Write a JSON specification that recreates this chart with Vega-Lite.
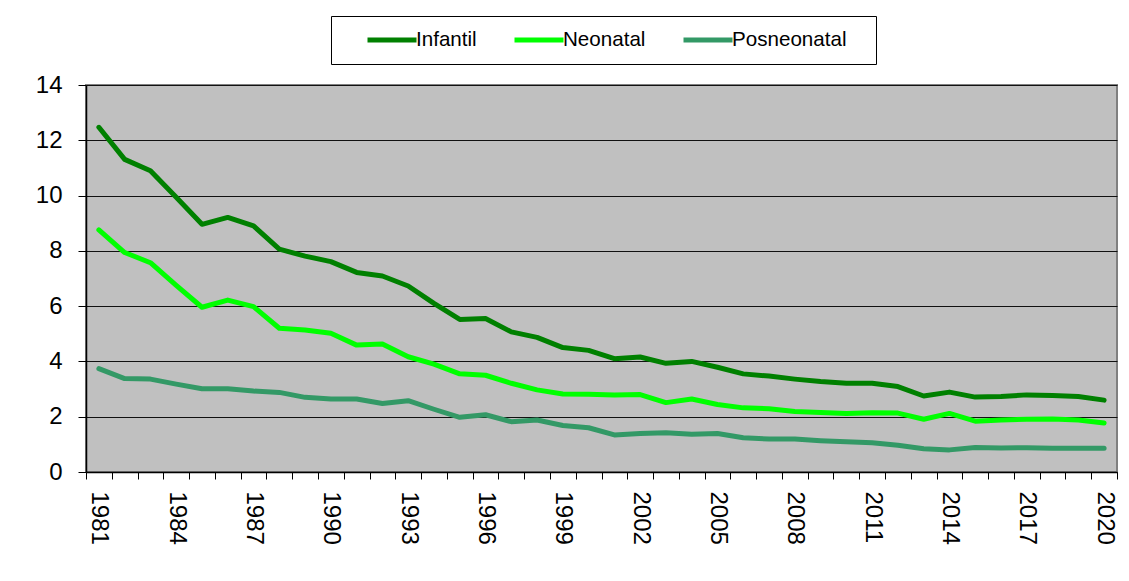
{
  "$schema": "https://vega.github.io/schema/vega-lite/v6.json",
  "width": 1031,
  "height": 387,
  "autosize": {"type": "none"},
  "padding": {"left": 86, "top": 85, "right": 12, "bottom": 109},
  "background": "white",
  "config": {
    "font": "Liberation Sans",
    "view": {"fill": "#C0C0C0", "stroke": "#808080", "strokeWidth": 2}
  },
  "data": {
    "values": [
      {"year": 1981, "serie": "Infantil", "valor": 12.47},
      {"year": 1982, "serie": "Infantil", "valor": 11.31},
      {"year": 1983, "serie": "Infantil", "valor": 10.9},
      {"year": 1984, "serie": "Infantil", "valor": 9.94},
      {"year": 1985, "serie": "Infantil", "valor": 8.96},
      {"year": 1986, "serie": "Infantil", "valor": 9.21},
      {"year": 1987, "serie": "Infantil", "valor": 8.9},
      {"year": 1988, "serie": "Infantil", "valor": 8.06},
      {"year": 1989, "serie": "Infantil", "valor": 7.81},
      {"year": 1990, "serie": "Infantil", "valor": 7.61},
      {"year": 1991, "serie": "Infantil", "valor": 7.22},
      {"year": 1992, "serie": "Infantil", "valor": 7.09},
      {"year": 1993, "serie": "Infantil", "valor": 6.73},
      {"year": 1994, "serie": "Infantil", "valor": 6.1},
      {"year": 1995, "serie": "Infantil", "valor": 5.52},
      {"year": 1996, "serie": "Infantil", "valor": 5.55},
      {"year": 1997, "serie": "Infantil", "valor": 5.07},
      {"year": 1998, "serie": "Infantil", "valor": 4.87},
      {"year": 1999, "serie": "Infantil", "valor": 4.5},
      {"year": 2000, "serie": "Infantil", "valor": 4.4},
      {"year": 2001, "serie": "Infantil", "valor": 4.1},
      {"year": 2002, "serie": "Infantil", "valor": 4.16},
      {"year": 2003, "serie": "Infantil", "valor": 3.93},
      {"year": 2004, "serie": "Infantil", "valor": 4.0},
      {"year": 2005, "serie": "Infantil", "valor": 3.79},
      {"year": 2006, "serie": "Infantil", "valor": 3.55},
      {"year": 2007, "serie": "Infantil", "valor": 3.47},
      {"year": 2008, "serie": "Infantil", "valor": 3.36},
      {"year": 2009, "serie": "Infantil", "valor": 3.27},
      {"year": 2010, "serie": "Infantil", "valor": 3.21},
      {"year": 2011, "serie": "Infantil", "valor": 3.21},
      {"year": 2012, "serie": "Infantil", "valor": 3.09},
      {"year": 2013, "serie": "Infantil", "valor": 2.75},
      {"year": 2014, "serie": "Infantil", "valor": 2.89},
      {"year": 2015, "serie": "Infantil", "valor": 2.71},
      {"year": 2016, "serie": "Infantil", "valor": 2.73},
      {"year": 2017, "serie": "Infantil", "valor": 2.79},
      {"year": 2018, "serie": "Infantil", "valor": 2.77},
      {"year": 2019, "serie": "Infantil", "valor": 2.73},
      {"year": 2020, "serie": "Infantil", "valor": 2.6},
      {"year": 1981, "serie": "Neonatal", "valor": 8.76},
      {"year": 1982, "serie": "Neonatal", "valor": 7.94},
      {"year": 1983, "serie": "Neonatal", "valor": 7.57},
      {"year": 1984, "serie": "Neonatal", "valor": 6.75},
      {"year": 1985, "serie": "Neonatal", "valor": 5.96},
      {"year": 1986, "serie": "Neonatal", "valor": 6.22},
      {"year": 1987, "serie": "Neonatal", "valor": 5.98},
      {"year": 1988, "serie": "Neonatal", "valor": 5.2},
      {"year": 1989, "serie": "Neonatal", "valor": 5.14},
      {"year": 1990, "serie": "Neonatal", "valor": 5.02},
      {"year": 1991, "serie": "Neonatal", "valor": 4.59},
      {"year": 1992, "serie": "Neonatal", "valor": 4.63},
      {"year": 1993, "serie": "Neonatal", "valor": 4.17},
      {"year": 1994, "serie": "Neonatal", "valor": 3.9},
      {"year": 1995, "serie": "Neonatal", "valor": 3.55},
      {"year": 1996, "serie": "Neonatal", "valor": 3.5},
      {"year": 1997, "serie": "Neonatal", "valor": 3.21},
      {"year": 1998, "serie": "Neonatal", "valor": 2.97},
      {"year": 1999, "serie": "Neonatal", "valor": 2.82},
      {"year": 2000, "serie": "Neonatal", "valor": 2.81},
      {"year": 2001, "serie": "Neonatal", "valor": 2.79},
      {"year": 2002, "serie": "Neonatal", "valor": 2.8},
      {"year": 2003, "serie": "Neonatal", "valor": 2.51},
      {"year": 2004, "serie": "Neonatal", "valor": 2.64},
      {"year": 2005, "serie": "Neonatal", "valor": 2.44},
      {"year": 2006, "serie": "Neonatal", "valor": 2.32},
      {"year": 2007, "serie": "Neonatal", "valor": 2.29},
      {"year": 2008, "serie": "Neonatal", "valor": 2.19},
      {"year": 2009, "serie": "Neonatal", "valor": 2.15},
      {"year": 2010, "serie": "Neonatal", "valor": 2.12},
      {"year": 2011, "serie": "Neonatal", "valor": 2.14},
      {"year": 2012, "serie": "Neonatal", "valor": 2.13},
      {"year": 2013, "serie": "Neonatal", "valor": 1.91},
      {"year": 2014, "serie": "Neonatal", "valor": 2.12},
      {"year": 2015, "serie": "Neonatal", "valor": 1.84},
      {"year": 2016, "serie": "Neonatal", "valor": 1.88},
      {"year": 2017, "serie": "Neonatal", "valor": 1.91},
      {"year": 2018, "serie": "Neonatal", "valor": 1.92},
      {"year": 2019, "serie": "Neonatal", "valor": 1.88},
      {"year": 2020, "serie": "Neonatal", "valor": 1.77},
      {"year": 1981, "serie": "Posneonatal", "valor": 3.74},
      {"year": 1982, "serie": "Posneonatal", "valor": 3.38},
      {"year": 1983, "serie": "Posneonatal", "valor": 3.36},
      {"year": 1984, "serie": "Posneonatal", "valor": 3.18},
      {"year": 1985, "serie": "Posneonatal", "valor": 3.01},
      {"year": 1986, "serie": "Posneonatal", "valor": 3.01},
      {"year": 1987, "serie": "Posneonatal", "valor": 2.93},
      {"year": 1988, "serie": "Posneonatal", "valor": 2.88},
      {"year": 1989, "serie": "Posneonatal", "valor": 2.7},
      {"year": 1990, "serie": "Posneonatal", "valor": 2.64},
      {"year": 1991, "serie": "Posneonatal", "valor": 2.64},
      {"year": 1992, "serie": "Posneonatal", "valor": 2.48},
      {"year": 1993, "serie": "Posneonatal", "valor": 2.58},
      {"year": 1994, "serie": "Posneonatal", "valor": 2.27},
      {"year": 1995, "serie": "Posneonatal", "valor": 1.98},
      {"year": 1996, "serie": "Posneonatal", "valor": 2.07},
      {"year": 1997, "serie": "Posneonatal", "valor": 1.82},
      {"year": 1998, "serie": "Posneonatal", "valor": 1.88},
      {"year": 1999, "serie": "Posneonatal", "valor": 1.68},
      {"year": 2000, "serie": "Posneonatal", "valor": 1.6},
      {"year": 2001, "serie": "Posneonatal", "valor": 1.34},
      {"year": 2002, "serie": "Posneonatal", "valor": 1.39},
      {"year": 2003, "serie": "Posneonatal", "valor": 1.42},
      {"year": 2004, "serie": "Posneonatal", "valor": 1.37},
      {"year": 2005, "serie": "Posneonatal", "valor": 1.39},
      {"year": 2006, "serie": "Posneonatal", "valor": 1.24},
      {"year": 2007, "serie": "Posneonatal", "valor": 1.19},
      {"year": 2008, "serie": "Posneonatal", "valor": 1.19},
      {"year": 2009, "serie": "Posneonatal", "valor": 1.13},
      {"year": 2010, "serie": "Posneonatal", "valor": 1.09},
      {"year": 2011, "serie": "Posneonatal", "valor": 1.06},
      {"year": 2012, "serie": "Posneonatal", "valor": 0.97},
      {"year": 2013, "serie": "Posneonatal", "valor": 0.84},
      {"year": 2014, "serie": "Posneonatal", "valor": 0.8},
      {"year": 2015, "serie": "Posneonatal", "valor": 0.89},
      {"year": 2016, "serie": "Posneonatal", "valor": 0.87},
      {"year": 2017, "serie": "Posneonatal", "valor": 0.88},
      {"year": 2018, "serie": "Posneonatal", "valor": 0.86},
      {"year": 2019, "serie": "Posneonatal", "valor": 0.86},
      {"year": 2020, "serie": "Posneonatal", "valor": 0.86}
    ]
  },
  "mark": {"type": "line", "strokeWidth": 5, "strokeCap": "round", "strokeJoin": "round"},
  "encoding": {
    "x": {
      "field": "year",
      "type": "ordinal",
      "bandPosition": 0.5,
      "scale": {"type": "band", "paddingInner": 0, "paddingOuter": 0},
      "axis": {
        "title": null,
        "labelAngle": 90,
        "labelFontSize": 24,
        "labelColor": "#000",
        "labelPadding": 12,
        "labelOverlap": false,
        "labelExpr": "(datum.value - 1981) % 3 == 0 ? datum.label : ''",
        "tickBand": "extent",
        "tickSize": 7,
        "tickColor": "#000",
        "domainColor": "#000",
        "domainWidth": 1.5,
        "grid": false
      }
    },
    "y": {
      "field": "valor",
      "type": "quantitative",
      "scale": {"domain": [0, 14], "nice": false},
      "axis": {
        "title": null,
        "values": [0, 2, 4, 6, 8, 10, 12, 14],
        "labelFontSize": 24,
        "labelColor": "#000",
        "labelPadding": 16,
        "tickSize": 8,
        "tickColor": "#000",
        "domainColor": "#000",
        "domainWidth": 1.5,
        "gridColor": "#111",
        "gridOpacity": 1
      }
    },
    "color": {
      "field": "serie",
      "type": "nominal",
      "scale": {
        "domain": ["Infantil", "Neonatal", "Posneonatal"],
        "range": ["#008000", "#00FF00", "#339966"]
      },
      "legend": {
        "orient": "none",
        "legendX": 245,
        "legendY": -69,
        "direction": "horizontal",
        "title": " ",
        "titleOrient": "right",
        "titleFontSize": 1,
        "titlePadding": 17,
        "symbolType": "stroke",
        "symbolStrokeWidth": 5,
        "symbolSize": 2401,
        "symbolOffset": 22,
        "clipHeight": 24,
        "labelFontSize": 20.6,
        "labelColor": "#000",
        "labelOffset": -3,
        "columnPadding": 13,
        "padding": 12,
        "strokeColor": "#000",
        "fillColor": "#fff"
      }
    }
  }
}
